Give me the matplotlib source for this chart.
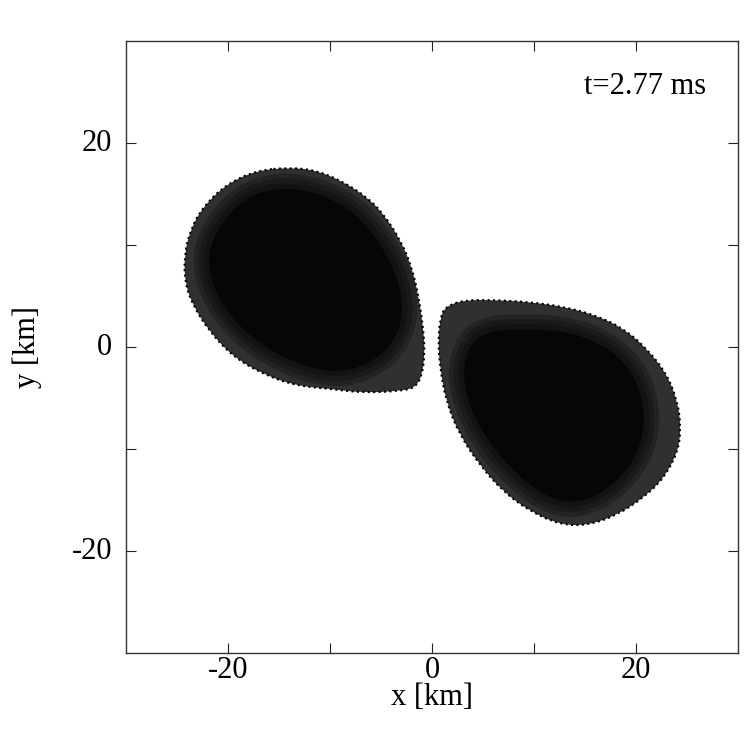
import matplotlib
matplotlib.use("Agg")
import matplotlib.pyplot as plt
from matplotlib.patches import PathPatch
from matplotlib.path import Path
from matplotlib.transforms import ScaledTranslation

plt.rcParams['font.family'] = ['Liberation Serif', 'DejaVu Serif']

# Outlines of the two particle clouds (km)
left_outer_x = [-13.9,-11.3,-8.7,-6.4,-4.8,-3.1,-2.0,-1.3,-0.85,-0.7,-1.0,-1.7,-3.1,-6.7,-10.0,-13.3,-16.5,-19.5,-21.8,-23.4,-24.2,-24.3,-23.7,-22.4,-20.1,-17.2]
left_outer_y = [17.6,17.3,16.2,14.7,13.1,10.5,7.9,4.9,1.7,-0.6,-2.9,-4.0,-4.3,-4.5,-4.1,-3.8,-2.7,-0.95,1.5,4.0,6.2,8.9,11.5,13.8,16.0,17.3]
left_core_x = [-14.9,-11.0,-7.4,-4.8,-3.1,-2.8,-4.8,-8.7,-12.6,-16.5,-19.5,-21.4,-22.1,-20.8,-18.2]
left_core_y = [15.7,15.1,13.1,9.8,6.2,2.3,-0.95,-2.6,-1.9,0.0,2.6,5.6,8.9,12.1,14.7]
right_outer_x = [1.3,3.1,6.3,9.6,12.9,16.1,18.8,21.0,23.0,24.1,24.4,24.1,22.7,20.7,18.1,15.2,12.5,9.6,7.0,4.7,2.7,1.4,0.8,0.6,0.8]
right_outer_y = [3.95,4.6,4.6,4.4,3.95,3.1,1.8,-0.1,-2.6,-5.4,-8.0,-10.3,-12.9,-14.8,-16.5,-17.5,-17.4,-16.1,-14.2,-11.6,-8.6,-5.4,-2.1,0.5,2.8]
right_core_x = [4.7,9.0,13.5,17.5,20.1,21.0,20.1,17.1,13.5,10.3,7.0,4.7,3.2,3.1]
right_core_y = [1.5,1.8,1.5,-0.1,-3.1,-7.0,-10.9,-14.2,-15.5,-14.2,-11.2,-8.0,-4.4,-1.1]

major_ticks = [-20, -10, 0, 10, 20]
tick_labels = ['-20', '', '0', '', '20']
time_label = 't=2.77 ms'


def smooth_path(xs, ys):
    """Closed quadratic-Bezier path with the read points as control points."""
    n = len(xs)
    mid = lambda i: ((xs[i] + xs[(i + 1) % n]) / 2, (ys[i] + ys[(i + 1) % n]) / 2)
    verts = [mid(n - 1)]
    codes = [Path.MOVETO]
    for i in range(n):
        verts += [(xs[i], ys[i]), mid(i)]
        codes += [Path.CURVE3, Path.CURVE3]
    return Path(verts, codes)


fig = plt.figure(figsize=(7.53, 7.53), dpi=100)
ax = fig.add_axes([126/753, 100/753, 612/753, 612/753])
ax.set_xlim(-30, 30)
ax.set_ylim(-30, 30)

for ox, oy, cx, cy in [(left_outer_x, left_outer_y, left_core_x, left_core_y),
                       (right_outer_x, right_outer_y, right_core_x, right_core_y)]:
    outer = smooth_path(ox, oy)
    core = smooth_path(cx, cy)
    ax.add_patch(PathPatch(outer, facecolor='#303030', edgecolor='none', zorder=2))
    for lw in (22, 15, 8):
        ax.add_patch(PathPatch(core, facecolor='none', edgecolor='black',
                               alpha=0.25, linewidth=lw, zorder=3))
    ax.add_patch(PathPatch(core, facecolor='#060606', edgecolor='none', zorder=4))
    ax.add_patch(PathPatch(outer, facecolor='none', edgecolor='black', linewidth=1.5,
                           linestyle=(0, (1, 1.6)), zorder=5))

ax.set_xticks(major_ticks)
ax.set_xticklabels(tick_labels)
ax.set_yticks(major_ticks)
ax.set_yticklabels(tick_labels)
ax.tick_params(direction='in', length=7.2, width=0.8, top=True, right=True,
               labelsize=22, color='#222222')
ax.tick_params(axis='x', pad=2)
ax.tick_params(axis='y', pad=10)
nudge_up = ScaledTranslation(0, 2/72, fig.dpi_scale_trans)
for lab in ax.get_yticklabels():
    lab.set_transform(lab.get_transform() + nudge_up)
for s in ax.spines.values():
    s.set_linewidth(1.0)
    s.set_color('#333333')

ax.set_xlabel('x [km]', fontsize=22, va='center')
ax.set_ylabel('y [km]', fontsize=22, va='center')
ax.xaxis.set_label_coords(0.5, -0.0735)
ax.yaxis.set_label_coords(-0.162, 0.5)
ax.text(0.948, 0.926, time_label, transform=ax.transAxes, ha='right',
        va='center', fontsize=22)
fig.savefig('out.png', dpi=100)
